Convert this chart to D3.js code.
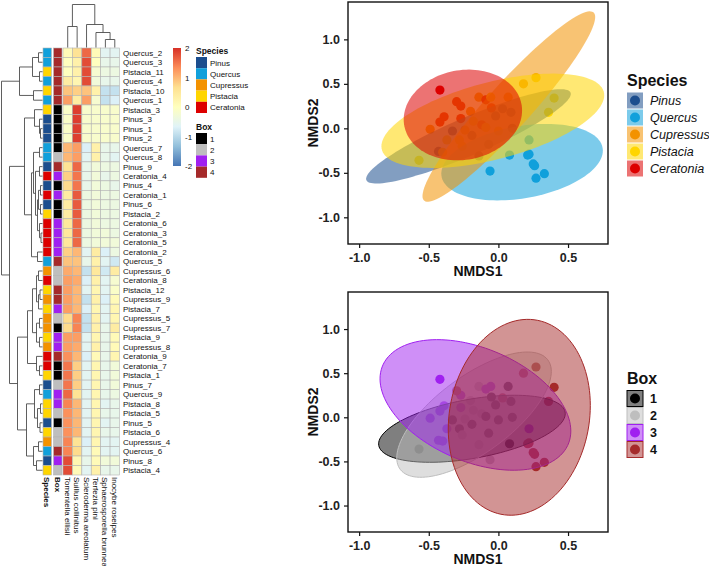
<!DOCTYPE html>
<html><head><meta charset="utf-8">
<script src="https://cdn.jsdelivr.net/npm/d3@7"></script>
<style>
body{margin:0;background:#fff}
svg{display:block;font-family:"Liberation Sans",Arial,Helvetica,sans-serif}
</style>
</head><body>
<svg id="c" width="709" height="566"></svg>
<script>
// ---------------- DATA ----------------
const rowLabels = ["Quercus_2","Quercus_3","Pistacia_11","Quercus_4","Pistacia_10","Quercus_1","Pistacia_3","Pinus_3","Pinus_1","Pinus_2",
"Quercus_7","Quercus_8","Pinus_9","Ceratonia_4","Pinus_4","Ceratonia_1","Pinus_6","Pistacia_2","Ceratonia_6","Ceratonia_3",
"Ceratonia_5","Ceratonia_2","Quercus_5","Cupressus_6","Ceratonia_8","Pistacia_12","Cupressus_9","Pistacia_7","Cupressus_5","Cupressus_7",
"Pistacia_9","Cupressus_8","Ceratonia_9","Ceratonia_7","Pistacia_1","Pinus_7","Quercus_9","Pistacia_8","Pistacia_5","Pinus_5",
"Pistacia_6","Cupressus_4","Quercus_6","Pinus_8","Pistacia_4"];
const rowBox = [4,4,4,4,4,4,1,1,1,1, 1,2,4,3,1,3,1,1,3,3, 3,3,4,2,2,4,4,3,2,1, 3,3,4,1,1,2,3,3,2,1, 2,2,4,3,2];
const taxa = ["Tomentella ellisii","Suillus collinitus","Scleroderma areolatum","Terfezia pini","Sphaerosporella brunnea","Inocybe roseipes"];
const annotCols = ["Species","Box"];
const heatValues = [
[0.1,0.6,1.6,0.1,-0.6,-0.6],[0.0,0.3,1.8,0.0,-0.5,-0.5],[0.0,0.3,1.8,-0.2,-0.4,-0.4],[0.4,0.2,1.8,-0.3,-0.5,-0.5],
[0.9,0.8,0.9,0.3,-0.9,-0.9],[1.2,0.4,1.2,-0.2,-0.9,-0.7],[-0.1,1.9,-0.15,-0.15,-0.15,-0.15],[-0.1,1.9,-0.15,-0.15,-0.15,-0.15],
[-0.1,1.9,-0.15,-0.15,-0.15,-0.15],[-0.1,1.9,-0.15,-0.15,-0.15,-0.15],[1.0,1.2,-0.7,0.3,-0.5,-0.5],[1.0,1.2,-0.6,0.3,-0.5,-0.6],
[0.6,1.6,-0.5,-0.3,-0.4,-0.4],[0.8,1.5,-0.5,-0.3,-0.5,-0.4],[0.7,1.5,-0.5,-0.3,-0.4,-0.5],[0.4,1.7,-0.4,-0.3,-0.4,-0.4],
[0.4,1.7,-0.4,-0.3,-0.4,-0.4],[0.4,1.7,-0.4,-0.3,-0.4,-0.4],[0.5,1.6,-0.4,-0.3,-0.4,-0.4],[0.5,1.6,-0.4,-0.3,-0.3,-0.4],
[0.5,1.6,-0.4,-0.3,-0.3,-0.3],[0.8,1.0,-0.6,0.4,-0.7,-0.4],[0.9,0.9,-0.5,0.3,-0.6,-0.8],[1.1,1.0,-0.9,0.5,-0.8,0.4],
[1.2,1.1,-0.7,0.3,-0.6,-0.2],[1.2,1.0,-0.6,0.2,-0.6,-0.1],[1.2,1.0,-0.9,0.3,-0.7,0.1],[1.2,1.0,-0.7,0.2,-0.6,0.2],
[0.7,1.4,-0.9,0.3,-0.6,0.2],[0.7,1.4,-0.9,0.3,-0.5,0.4],[1.2,1.2,-0.6,0.2,-0.5,0.1],[1.2,1.1,-0.6,0.3,-0.5,0.1],
[1.3,1.0,-0.7,0.1,-0.5,0.2],[1.5,0.8,-0.6,0.2,-0.5,-0.3],[1.5,0.8,-0.6,0.2,-0.5,-0.3],[1.5,0.8,-0.6,0.2,-0.5,-0.3],
[1.6,0.6,-0.6,0.2,-0.5,-0.4],[1.4,1.0,-0.6,0.2,-0.6,-0.5],[1.3,1.0,-0.6,0.2,-0.5,-0.5],[1.3,1.0,-0.6,0.2,-0.6,-0.5],
[1.3,1.0,-0.6,0.2,-0.5,-0.5],[1.4,0.6,-0.7,0.2,-0.6,-0.6],[1.4,0.7,-0.6,0.1,-0.6,-0.6],[1.8,0.2,-0.5,0.1,-0.3,-0.3],
[1.8,0.1,-0.6,0.3,-0.5,-0.5]];
const heatPalette = ["#4575B4","#91BFDB","#E0F3F8","#FFFFBF","#FEE090","#FC8D59","#D73027"];
const heatTicks = [2,1,0,-1,-2];
const speciesLevels = ["Pinus","Quercus","Cupressus","Pistacia","Ceratonia"];
const speciesColors = ["#1C4E8E","#11A0DB","#F39200","#FFD500","#DD0000"];
const boxLevels = ["1","2","3","4"];
const boxColors = ["#000000","#BEBEBE","#A020F0","#A52A2A"];
// dendrograms: [mergeHeight, left, right]
const rowTree =
 [41,
  [23,
   [10,[4,"Quercus_2","Quercus_3"],[3,"Pistacia_11","Quercus_4"]],
   [9,"Pistacia_10","Quercus_1"]],
  [33,
   [18,
    [8,"Pistacia_3",[3,"Pinus_3",[2,"Pinus_1","Pinus_2"]]],
    [11,
     [9,[3,"Quercus_7","Quercus_8"],
        [7,[3,"Pinus_9","Ceratonia_4"],
           [5,[4,[2,"Pinus_4","Ceratonia_1"],[2,"Pinus_6","Pistacia_2"]],
              [3,"Ceratonia_6",[1.5,"Ceratonia_3","Ceratonia_5"]]]]],
     [5,"Ceratonia_2","Quercus_5"]]],
   [25,
    [15,
     [10,[6,[4,"Cupressus_6","Ceratonia_8"],[4,[2.5,"Pistacia_12","Cupressus_9"],"Pistacia_7"]],
         [6,[3,"Cupressus_5","Cupressus_7"],[3,"Pistacia_9","Cupressus_8"]]],
     [6,"Ceratonia_9",[3,"Ceratonia_7","Pistacia_1"]]],
    [16,
     [8,[3,"Pinus_7","Quercus_9"],[5,[2,"Pistacia_8","Pistacia_5"],[2.5,"Pinus_5","Pistacia_6"]]],
     [9,[4,"Cupressus_4","Quercus_6"],[6,"Pinus_8","Pistacia_4"]]]]]];
const colTree = [43,[21,"Tomentella ellisii","Suillus collinitus"],
  [23,"Scleroderma areolatum",[15,"Terfezia pini",[8,"Sphaerosporella brunnea","Inocybe roseipes"]]]];

// NMDS sample scores
const nmdsSamples = ["Ceratonia_4","Ceratonia_1","Ceratonia_6","Ceratonia_3","Ceratonia_5","Cupressus_8","Pinus_6","Pistacia_7","Pinus_8","Pistacia_9",
"Pistacia_4","Cupressus_6","Ceratonia_2","Ceratonia_7","Pinus_4","Ceratonia_8","Cupressus_5","Cupressus_7","Pinus_2","Pinus_1",
"Pinus_3","Pinus_5","Pistacia_2","Pinus_7","Quercus_8","Quercus_7","Quercus_9","Quercus_4","Quercus_1","Quercus_2",
"Quercus_3","Cupressus_9","Pistacia_12","Pistacia_11","Pistacia_10","Pistacia_1","Pistacia_3","Pistacia_8","Pistacia_5","Pinus_9",
"Ceratonia_9","Pistacia_6","Quercus_5","Cupressus_4","Quercus_6"];
const nmds1 = [-0.42,-0.27,-0.27,-0.39,-0.42,-0.49,-0.33,-0.37,-0.43,-0.40,
-0.57,-0.14,-0.09,-0.05,-0.02,-0.12,-0.20,0.07,0.09,0.10,
-0.07,-0.19,0.00,-0.14,-0.06,0.08,0.22,0.22,0.26,0.33,
0.27,0.18,0.27,0.40,0.36,-0.28,-0.09,-0.055,-0.26,0.03,
-0.30,-0.18,0.25,-0.24,0.21];
const nmds2 = [0.43,0.25,0.11,0.13,0.07,-0.01,-0.03,-0.13,-0.26,-0.27,
-0.36,0.35,0.32,0.23,0.14,0.04,0.19,0.35,0.18,0.00,
-0.18,-0.08,-0.03,-0.31,-0.48,-0.30,-0.13,-0.29,-0.42,-0.51,
-0.56,0.50,0.57,0.34,0.18,-0.13,0.01,0.35,-0.20,0.22,
0.30,0.08,-0.40,-0.02,-0.30];
// confidence ellipses (centre, half extents, correlation)
const spEllCx = [-0.215,0.17,0.075,-0.04,-0.255];
const spEllCy = [-0.09,-0.38,0.245,0.085,0.15];
const spEllAx = [0.735,0.58,0.62,0.80,0.425];
const spEllAy = [0.53,0.43,1.07,0.53,0.51];
const spEllRho = [0.90,0.30,0.94,0.54,0.10];
const bxEllCx = [-0.19,-0.175,-0.165,0.15];
const bxEllCy = [-0.13,0.03,0.14,0.0];
const bxEllAx = [0.67,0.555,0.685,0.51];
const bxEllAy = [0.38,0.71,0.74,1.11];
const bxEllRho = [0.45,0.69,-0.40,0.12];
const xTicks = [-1.0,-0.5,0.0,0.5];
const yTicks = [-1.0,-0.5,0.0,0.5,1.0];

// ---------------- DRAW ----------------
const svg = d3.select("#c");
const spColor = d3.scaleOrdinal(speciesLevels, speciesColors);
const bxColor = d3.scaleOrdinal(boxLevels, boxColors);
const heatColor = d3.scaleLinear().domain(d3.range(7).map(i => -2 + i*4/6)).range(heatPalette).clamp(true);
const speciesOf = n => n.split("_")[0];
const boxOf = {}; rowLabels.forEach((r,i)=> boxOf[r] = String(rowBox[i]));

const yRow = d3.scaleBand().domain(rowLabels).range([48, 475]);
const xCol = d3.scaleBand().domain(taxa).range([63, 119.5]);
const xAnn = d3.scaleBand().domain(annotCols).range([43, 62]).paddingInner(0.2);
const hm = svg.append("g");
const cellStroke = "#b3b3b3";

// heat cells
const cells = [];
rowLabels.forEach((r,i)=> taxa.forEach((t,j)=> cells.push({r, t, v: heatValues[i][j]})));
hm.selectAll("rect.cell").data(cells).join("rect").attr("class","cell")
  .attr("x", d=>xCol(d.t)).attr("y", d=>yRow(d.r))
  .attr("width", xCol.bandwidth()).attr("height", yRow.bandwidth())
  .attr("fill", d=>heatColor(d.v)).attr("stroke", cellStroke).attr("stroke-width",0.6);
// annotation cells
hm.selectAll("rect.sp").data(rowLabels).join("rect").attr("class","sp")
  .attr("x", xAnn("Species")).attr("y", d=>yRow(d)).attr("width", xAnn.bandwidth()).attr("height", yRow.bandwidth())
  .attr("fill", d=>spColor(speciesOf(d))).attr("stroke", cellStroke).attr("stroke-width",0.6);
hm.selectAll("rect.bx").data(rowLabels).join("rect").attr("class","bx")
  .attr("x", xAnn("Box")).attr("y", d=>yRow(d)).attr("width", xAnn.bandwidth()).attr("height", yRow.bandwidth())
  .attr("fill", d=>bxColor(boxOf[d])).attr("stroke", cellStroke).attr("stroke-width",0.6);
// row labels
hm.selectAll("text.rl").data(rowLabels).join("text").attr("class","rl")
  .attr("x", 123).attr("y", d=>yRow(d)+yRow.bandwidth()/2+2.9)
  .attr("font-size", 8).attr("fill","#111").text(d=>d);
// column labels
const colLab = annotCols.map(c=>({c, x:xAnn(c)+xAnn.bandwidth()/2, bold:true}))
  .concat(taxa.map(t=>({c:t, x:xCol(t)+xCol.bandwidth()/2, bold:false})));
hm.selectAll("text.cl").data(colLab).join("text").attr("class","cl")
  .attr("transform", d=>`translate(${d.x-2.9},477) rotate(90)`)
  .attr("font-size", 8).attr("font-weight", d=>d.bold?"bold":"normal").attr("fill","#111").text(d=>d.c);

// dendrograms
function walk(node, leafPos, segs){
  if (typeof node === "string") return {p: leafPos(node), h: 0};
  const [h,a,b] = node;
  const A = walk(a, leafPos, segs), B = walk(b, leafPos, segs);
  segs.push({kind:"bar", h, p1:A.p, p2:B.p});
  segs.push({kind:"stem", p:A.p, h0:A.h, h1:h});
  segs.push({kind:"stem", p:B.p, h0:B.h, h1:h});
  return {p:(A.p+B.p)/2, h};
}
const rowSegs = []; walk(rowTree, n=>yRow(n)+yRow.bandwidth()/2, rowSegs);
const xD = d3.scaleLinear().domain([0,41]).range([42.5,1.5]);
hm.append("g").selectAll("line").data(rowSegs).join("line")
  .attr("x1", d=>d.kind==="bar"?xD(d.h):xD(d.h0)).attr("x2", d=>d.kind==="bar"?xD(d.h):xD(d.h1))
  .attr("y1", d=>d.kind==="bar"?d.p1:d.p).attr("y2", d=>d.kind==="bar"?d.p2:d.p)
  .attr("stroke","#4d4d4d").attr("stroke-width",0.9);
const colSegs = []; walk(colTree, n=>xCol(n)+xCol.bandwidth()/2, colSegs);
const yD = d3.scaleLinear().domain([0,43]).range([47.5,4.5]);
hm.append("g").selectAll("line").data(colSegs).join("line")
  .attr("y1", d=>d.kind==="bar"?yD(d.h):yD(d.h0)).attr("y2", d=>d.kind==="bar"?yD(d.h):yD(d.h1))
  .attr("x1", d=>d.kind==="bar"?d.p1:d.p).attr("x2", d=>d.kind==="bar"?d.p2:d.p)
  .attr("stroke","#4d4d4d").attr("stroke-width",0.9);

// heat legend
const defs = svg.append("defs");
const grad = defs.append("linearGradient").attr("id","hg").attr("x1",0).attr("y1",1).attr("x2",0).attr("y2",0);
heatPalette.forEach((c,i)=> grad.append("stop").attr("offset", i/(heatPalette.length-1)).attr("stop-color", c));
const legY = d3.scaleLinear().domain([2,-2]).range([48,166]);
hm.append("rect").attr("x",173).attr("y",legY(2)).attr("width",8).attr("height",legY(-2)-legY(2)).attr("fill","url(#hg)");
hm.selectAll("text.ht").data(heatTicks).join("text").attr("class","ht")
  .attr("x",185).attr("y", d=>legY(d)+3).attr("font-size",8).attr("fill","#111").text(d=>d);
// annotation legends
function annLegend(title, levels, scale, y0){
  hm.append("text").attr("x",196).attr("y",y0).attr("font-size",8.5).attr("font-weight","bold").attr("fill","#111").text(title);
  const ky = d3.scaleBand().domain(levels).range([y0+3, y0+3+levels.length*11.2]);
  hm.selectAll(null).data(levels).join("rect").attr("x",196).attr("y",d=>ky(d)).attr("width",11).attr("height",ky.bandwidth())
    .attr("fill", d=>scale(d));
  hm.selectAll(null).data(levels).join("text").attr("x",210).attr("y",d=>ky(d)+ky.bandwidth()/2+3)
    .attr("font-size",8).attr("fill","#111").text(d=>d);
}
annLegend("Species", speciesLevels, spColor, 54);
annLegend("Box", boxLevels, bxColor, 130);

// ---------------- NMDS panels ----------------
const x = d3.scaleLinear().domain([-1.08,0.787]).range([348,608]);
const pts = nmdsSamples.map((s,i)=>({s, x:nmds1[i], y:nmds2[i], sp:speciesOf(s), bx:boxOf[s]}));

function ellipsePts(cx,cy,ax,ay,rho){
  const q = Math.sqrt(1-rho*rho);
  return d3.range(0, 2*Math.PI, Math.PI/60).map(t=>[cx+ax*Math.cos(t), cy+ay*(rho*Math.cos(t)+q*Math.sin(t))]);
}
function panel(top, bottom, key, levels, colorScale, ell, alpha, outline, id){
  const y = d3.scaleLinear().domain([-1.30,1.42]).range([bottom, top]);
  const g = svg.append("g");
  defs.append("clipPath").attr("id",id).append("rect").attr("x",x.range()[0]).attr("y",top)
    .attr("width",x.range()[1]-x.range()[0]).attr("height",bottom-top);
  const body = g.append("g").attr("clip-path",`url(#${id})`);
  body.selectAll("circle").data(pts).join("circle")
    .attr("cx",d=>x(d.x)).attr("cy",d=>y(d.y)).attr("r",4.6).attr("fill",d=>colorScale(d[key]));
  const line = d3.line().x(d=>x(d[0])).y(d=>y(d[1])).curve(d3.curveLinearClosed);
  levels.forEach((lv,i)=>{
    body.append("path").attr("d", line(ellipsePts(ell.cx[i],ell.cy[i],ell.ax[i],ell.ay[i],ell.rho[i])))
      .attr("fill", colorScale(lv)).attr("fill-opacity", alpha)
      .attr("stroke", outline ? colorScale(lv) : "none").attr("stroke-width", 1);
  });
  g.append("rect").attr("x",x.range()[0]).attr("y",top).attr("width",x.range()[1]-x.range()[0]).attr("height",bottom-top)
    .attr("fill","none").attr("stroke","#111").attr("stroke-width",1.4);
  const ax = g.append("g").attr("transform",`translate(0,${bottom})`)
    .call(d3.axisBottom(x).tickValues(xTicks).tickFormat(d=>d.toFixed(1)).tickSize(4).tickPadding(5));
  const ay = g.append("g").attr("transform",`translate(${x.range()[0]},0)`)
    .call(d3.axisLeft(y).tickValues(yTicks).tickFormat(d=>d.toFixed(1)).tickSize(4).tickPadding(4));
  [ax,ay].forEach(a=>{
    a.select(".domain").remove();
    a.selectAll(".tick line").attr("stroke","#111").attr("stroke-width",1.2);
    a.selectAll(".tick text").attr("font-size",12.5).attr("font-weight","bold").attr("fill","#222")
      .attr("font-family",'"Liberation Sans",Arial,sans-serif');
  });
  g.append("text").attr("x",(x.range()[0]+x.range()[1])/2).attr("y",bottom+32).attr("text-anchor","middle")
    .attr("font-size",14).attr("font-weight","bold").attr("fill","#111").text("NMDS1");
  g.append("text").attr("transform",`translate(318,${(top+bottom)/2}) rotate(-90)`).attr("text-anchor","middle")
    .attr("font-size",14).attr("font-weight","bold").attr("fill","#111").text("NMDS2");
  return g;
}
function scatterLegend(title, levels, colorScale, alpha, outline, italic, bold, keyTop){
  const g = svg.append("g");
  g.append("text").attr("x",627).attr("y",keyTop-6).attr("font-size",16).attr("font-weight","bold").attr("fill","#111").text(title);
  const ky = d3.scaleBand().domain(levels).range([keyTop, keyTop+17*levels.length]);
  levels.forEach(lv=>{
    const cy = ky(lv)+ky.bandwidth()/2;
    g.append("rect").attr("x",627).attr("y",cy-8).attr("width",16).attr("height",16)
      .attr("fill",colorScale(lv)).attr("fill-opacity",alpha)
      .attr("stroke", outline?colorScale(lv):"none").attr("stroke-width",1);
    g.append("circle").attr("cx",635).attr("cy",cy).attr("r",5).attr("fill",colorScale(lv));
    g.append("text").attr("x",650).attr("y",cy+4.5).attr("font-size",12.5)
      .attr("font-style",italic?"italic":"normal").attr("font-weight",bold?"bold":"normal").attr("fill","#111").text(lv);
  });
}
panel(2, 244, "sp", speciesLevels, spColor,
  {cx:spEllCx, cy:spEllCy, ax:spEllAx, ay:spEllAy, rho:spEllRho}, 0.55, false, "clipTop");
scatterLegend("Species", speciesLevels, spColor, 0.55, false, true, false, 92);
panel(292, 532, "bx", boxLevels, bxColor,
  {cx:bxEllCx, cy:bxEllCy, ax:bxEllAx, ay:bxEllAy, rho:bxEllRho}, 0.5, true, "clipBot");
scatterLegend("Box", boxLevels, bxColor, 0.5, true, false, true, 390);
</script>
</body></html>
